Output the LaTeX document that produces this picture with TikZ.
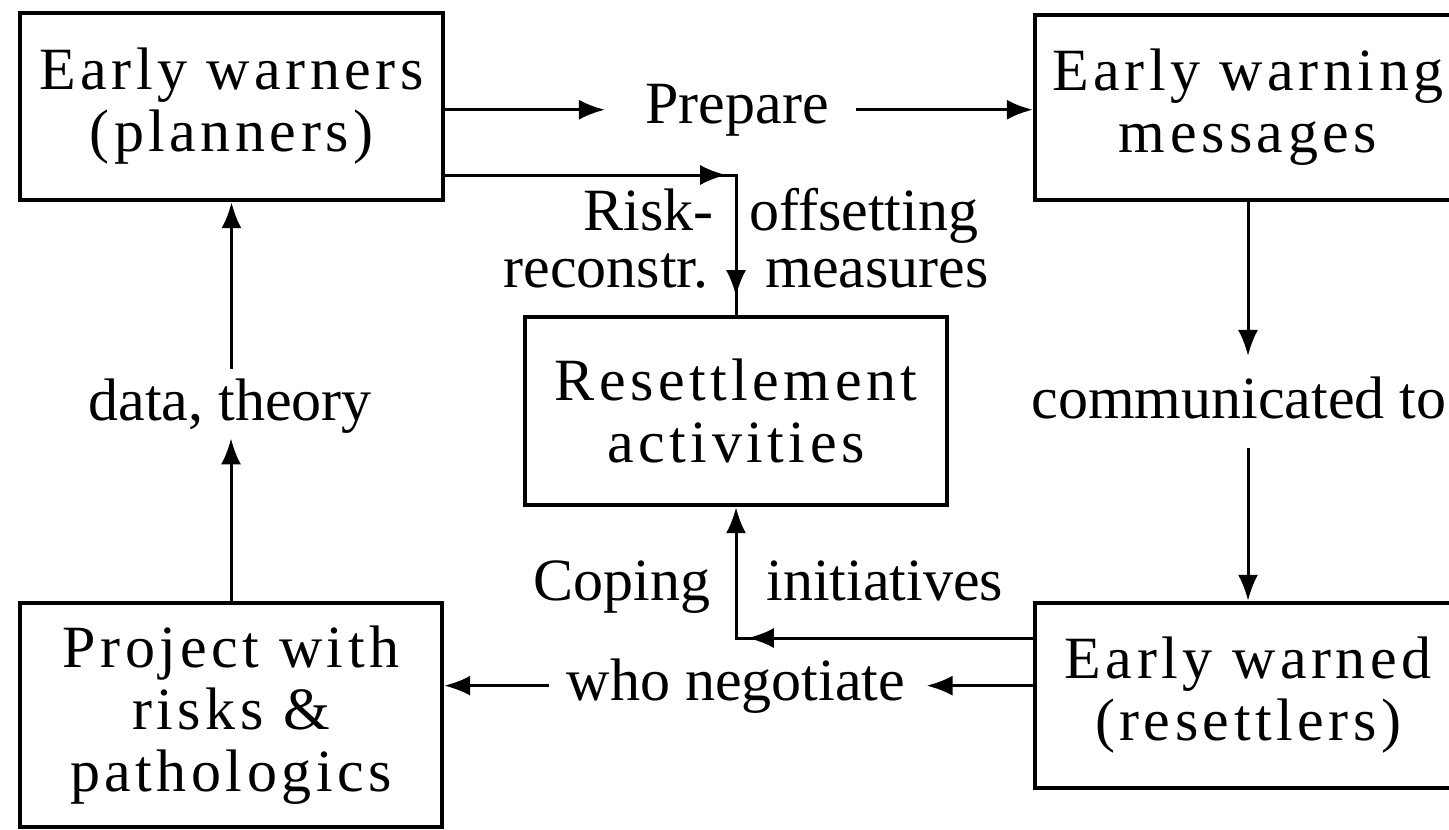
\documentclass[tikz,border=0pt]{standalone}
\usepackage{fontspec}
\setmainfont{Liberation Serif}
\newfontfamily\boxfont[LetterSpace=7.5]{Liberation Serif}
\usetikzlibrary{arrows.meta,decorations.markings}
\begin{document}
\begin{tikzpicture}[x=0.5pt,y=-0.5pt,
  >={Latex[length=13pt,width=10pt]},
  box/.style={draw, line width=2.2pt, inner sep=0pt, align=center,
    font=\boxfont\fontsize{30}{31}\selectfont},
  lab/.style={inner sep=0pt, font=\fontsize{30}{31}\selectfont},
  conn/.style={line width=1.5pt},
  tipped/.style={conn,->}]
\useasboundingbox (0,0) rectangle (1449,829);
% boxes
\node[box, minimum width=211.5pt, minimum height=93.5pt] (b1) at (231.5,106.5) {Early warners\\(planners)};
\node[box, minimum width=213pt, minimum height=92.5pt] (b2) at (1248,107.5) {Early warning\\messages};
\node[box, minimum width=211pt, minimum height=94pt] (b3) at (736,411) {Resettlement\\activities};
\node[box, minimum width=211pt, minimum height=112pt] (b4) at (231,715) {Project with\\risks \&\\pathologics};
\node[box, minimum width=213pt, minimum height=92.5pt] (b5) at (1248,695.5) {Early warned\\(resettlers)};
% labels
\node[lab, anchor=base] (prep) at (737,123) {Prepare};
\node[lab, anchor=base] (comm) at (1239,418) {communicated to};
\node[lab, anchor=base] (dt) at (230,420) {data, theory};
\node[lab, anchor=base] (neg) at (736,700) {who negotiate};
\node[lab, anchor=base east] (risk) at (714,230) {Risk-};
\node[lab, anchor=base west] (offs) at (749,230) {offsetting};
\node[lab, anchor=base east] (reco) at (709,287) {reconstr.};
\node[lab, anchor=base west] (meas) at (765,287) {measures};
\node[lab, anchor=base east] (cop) at (711,600) {Coping};
\node[lab, anchor=base west] (init) at (766,600) {initiatives};
% corners
\coordinate (c1) at (736,175);
\coordinate (c2) at (736,638);
% connectors
\draw[tipped, shorten >=20pt] (b1.east |- prep) -- (prep.west);
\draw[tipped, shorten <=13.5pt] (prep.east) -- (prep.east -| b2.west);
\draw[tipped, shorten >=10pt] (b2.south) -- (b2.south |- comm.north);
\draw[tipped, shorten <=14.5pt] (b5.north |- comm.south) -- (b5.north);
\draw[tipped, shorten >=2.5pt] (b4.north) -- (b4.north |- dt.south);
\draw[tipped, shorten <=4.5pt] (b1.south |- dt.north) -- (b1.south);
\draw[tipped, shorten >=10.5pt] (b5.west |- neg) -- (neg.east);
\draw[tipped, shorten <=8.5pt] (neg.west) -- (neg.west -| b4.east);
\draw[conn, postaction=decorate, decoration={markings,
    mark=at position 140.5pt with {\arrow{>}},
    mark=at position 206pt with {\arrow{>}}}]
  (b1.east |- c1) -- (c1) -- (b3.north);
\draw[tipped, postaction=decorate, decoration={markings,
    mark=at position 142.5pt with {\arrow{>}}}]
  (b5.west |- c2) -- (c2) -- (b3.south);
\end{tikzpicture}
\end{document}
